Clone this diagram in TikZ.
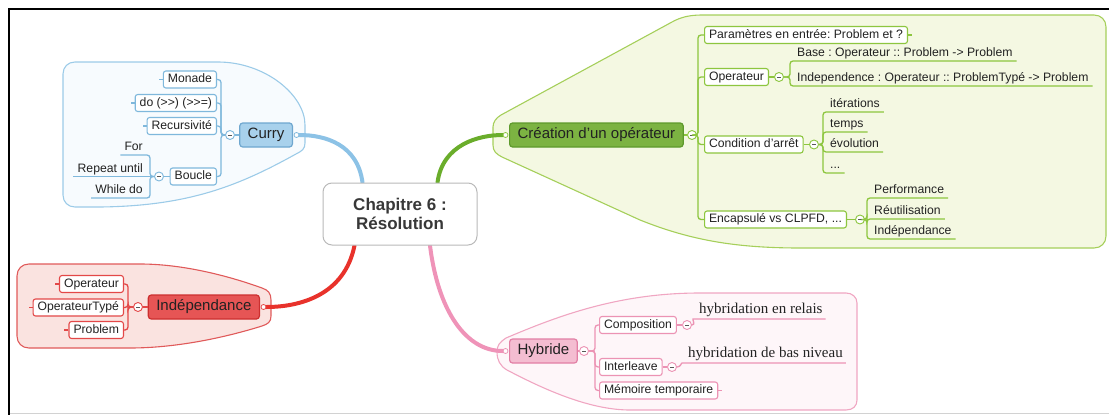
\documentclass[tikz,border=0pt]{standalone}
\usepackage{fontspec}
\setmainfont{Liberation Sans}
\newfontfamily\serifleaf{Liberation Serif}
\usetikzlibrary{calc}
\frenchspacing

\definecolor{txt}{HTML}{222222}
% blue branch
\definecolor{bLine}{HTML}{7FB8DC}
\definecolor{bTopic}{HTML}{A8D1EC}
\definecolor{bTopicLine}{HTML}{6FA7CF}
\definecolor{bTrunk}{HTML}{8CC2E6}
\definecolor{bZone}{HTML}{F7FBFE}
\definecolor{bZoneLine}{HTML}{9CCBE8}
% green branch
\definecolor{gLine}{HTML}{8DC63F}
\definecolor{gTopic}{HTML}{7CB342}
\definecolor{gTopicLine}{HTML}{5E9A2C}
\definecolor{gTrunk}{HTML}{6AAD2B}
\definecolor{gZone}{HTML}{F4F8E2}
\definecolor{gZoneLine}{HTML}{A5CF5A}
% red branch
\definecolor{rLine}{HTML}{E34848}
\definecolor{rTopic}{HTML}{E65555}
\definecolor{rTopicLine}{HTML}{CC2F2F}
\definecolor{rTrunk}{HTML}{E8322B}
\definecolor{rZone}{HTML}{FAE3E0}
\definecolor{rZoneLine}{HTML}{E05A5A}
% pink branch
\definecolor{pLine}{HTML}{EC93B4}
\definecolor{pTopic}{HTML}{F4BDD1}
\definecolor{pTopicLine}{HTML}{E27FA5}
\definecolor{pTrunk}{HTML}{EF93B8}
\definecolor{pZone}{HTML}{FEF6F9}
\definecolor{pZoneLine}{HTML}{F0A6C2}

\pgfdeclarelayer{back}
\pgfsetlayers{back,main}

\tikzset{
  lbl/.style={font=\fontsize{12.2}{14}\selectfont, text=txt},
  subbox/.style={lbl, draw, fill=white, rounded corners=2.5pt, line width=1.1pt,
    inner xsep=4.5pt, inner ysep=0pt, text height=9pt, text depth=2.5pt, minimum height=17pt},
  leaf/.style={lbl, inner xsep=4pt, inner ysep=0pt, text height=9pt, text depth=4pt},
  serifleaf/.style={font=\serifleaf\fontsize{15}{17}\selectfont, text=txt,
    inner xsep=3pt, inner ysep=0pt, text height=11pt, text depth=5pt},
  topic/.style={draw, rounded corners=3pt, line width=1.2pt, font=\fontsize{15}{18}\selectfont,
    text=txt, inner xsep=8pt, inner ysep=0pt, text height=11pt, text depth=3.5pt, minimum height=24pt},
  central/.style={draw=gray!55, line width=1pt, rounded corners=9pt, fill=white,
    minimum width=154pt, minimum height=62pt, align=center,
    font=\bfseries\fontsize{17}{19}\selectfont, text=txt!90},
  fold/.style={circle, draw, fill=white, line width=0.9pt, minimum size=9pt, inner sep=0pt,
    path picture={\draw[txt!75, line width=1pt]
      ([xshift=-2pt]path picture bounding box.center) -- ([xshift=2pt]path picture bounding box.center);}},
  knob/.style={circle, draw, fill=white, line width=0.8pt, minimum size=5pt, inner sep=0pt},
  link/.style={line width=1.3pt, rounded corners=3pt},
  trunk/.style={line width=4pt, line cap=round},
  zone/.style={line width=1.1pt},
}

\begin{document}
\begin{tikzpicture}[x=1pt,y=-1pt]
\useasboundingbox (0,0) rectangle (1109,415);

% page frame
\draw[line width=2pt] (8,9) -- (1109,9);
\draw[line width=2pt] (9,9) -- (9,415);
\draw[gray!35, line width=0.8pt] (10,413.5) -- (1109,413.5);

% ---------- branch zones ----------
\begin{pgfonlayer}{back}
\filldraw[zone, draw=bZoneLine, fill=bZone]
  (75,62) -- (218,62) .. controls (265,62) and (305,95) .. (305,125) -- (305,143)
  .. controls (305,149) and (302,151) .. (296,154)
  .. controls (240,185) and (190,206) .. (100,207) -- (75,207)
  .. controls (68,207) and (63,202) .. (63,195) -- (63,74)
  .. controls (63,67) and (68,62) .. (75,62) -- cycle;
\filldraw[zone, draw=rZoneLine, fill=rZone]
  (29,264) -- (140,264) .. controls (190,264) and (240,280) .. (262,288)
  .. controls (268,290) and (271,293) .. (271,300) -- (271,316)
  .. controls (271,322) and (268,324) .. (262,326)
  .. controls (230,336) and (180,348) .. (130,348) -- (29,348)
  .. controls (22,348) and (17,343) .. (17,336) -- (17,276)
  .. controls (17,269) and (22,264) .. (29,264) -- cycle;
\filldraw[zone, draw=gZoneLine, fill=gZone]
  (493,145) -- (493,127) .. controls (493,122) and (496,118) .. (501,115)
  -- (672,22) .. controls (681,17) and (690,15) .. (702,15) -- (1094,15)
  .. controls (1101,15) and (1106,20) .. (1106,27) -- (1106,236)
  .. controls (1106,243) and (1101,248) .. (1094,248) -- (800,248)
  .. controls (735,248) and (690,240) .. (640,220) -- (502,157)
  .. controls (496,154) and (493,151) .. (493,145) -- cycle;
\filldraw[zone, draw=pZoneLine, fill=pZone]
  (497,352) .. controls (497,345) and (500,342) .. (506,338)
  .. controls (560,315) and (620,293) .. (700,293) -- (846,293)
  .. controls (852,293) and (857,297) .. (857,303) -- (857,400)
  .. controls (857,406) and (853,410) .. (846,410) -- (630,410)
  .. controls (590,410) and (545,390) .. (507,370)
  .. controls (500,366) and (497,360) .. (497,352) -- cycle;
\end{pgfonlayer}

% ---------- central topic ----------
\node[central] (root) at (400,214) {Chapitre 6 :\\Résolution};

% ---------- Curry ----------
\node[topic, draw=bTopicLine, fill=bTopic, anchor=east] (curry) at (293,135) {Curry};
\node[knob, draw=bLine] (curryK) at ($(curry.east)+(3.5,0)$) {};
\node[fold, draw=bLine] (curryF) at (230,135) {};
\node[subbox, draw=bLine, anchor=east] (monade) at (217,79.5) {Monade};
\node[subbox, draw=bLine, anchor=east] (doop) at (217,103) {do (>{}>) (>{}>=)};
\node[subbox, draw=bLine, anchor=east] (recur) at (217,126) {Recursivité};
\node[subbox, draw=bLine, anchor=east] (boucle) at (217,176.5) {Boucle};
\node[fold, draw=bLine] (boucleF) at (159,176.5) {};
\node[leaf, anchor=south east] (for) at (147,155) {For};
\node[leaf, anchor=south east] (repeat) at (147,176.5) {Repeat until};
\node[leaf, anchor=south east] (while) at (147,198) {While do};

\begin{scope}[link, draw=bLine]
  \draw (curry.west) -- (curryF.east);
  \foreach \c in {monade,doop,recur,boucle}
    \draw (curryF.west) -| ($(\c.east)+(4,0)$) -- (\c.east);
  \foreach \c in {monade,doop,recur}
    \draw (\c.west) -- ++(-4,0);
  \draw (boucle.west) -- (boucleF.east);
  \draw (boucleF.west) -| ($(for.south east)+(3,0)$) -- (for.south west);
  \draw (boucleF.west) -- (repeat.south west);
  \draw (boucleF.west) -| ($(while.south east)+(3,0)$) -- (while.south west);
\end{scope}

% ---------- Indépendance ----------
\node[topic, draw=rTopicLine, fill=rTopic, anchor=east] (indep) at (260,307) {Indépendance};
\node[knob, draw=rLine] (indepK) at ($(indep.east)+(3.5,0)$) {};
\node[fold, draw=rLine] (indepF) at (138,307) {};
\node[subbox, draw=rLine, anchor=east] (rop) at (124,284) {Operateur};
\node[subbox, draw=rLine, anchor=east] (ropt) at (124,307.5) {OperateurTypé};
\node[subbox, draw=rLine, anchor=east] (rpb) at (124,330) {Problem};

\begin{scope}[link, draw=rLine]
  \draw (indep.west) -- (indepF.east);
  \foreach \c in {rop,ropt,rpb} {
    \draw (indepF.west) -| ($(\c.east)+(4,0)$) -- (\c.east);
    \draw (\c.west) -- ++(-4,0);
  }
\end{scope}

% ---------- Création d'un opérateur ----------
\node[topic, draw=gTopicLine, fill=gTopic, anchor=west] (crea) at (509,135) {Création d'un opérateur};
\node[knob, draw=gLine] (creaK) at ($(crea.west)+(-3.5,0)$) {};
\node[fold, draw=gLine] (creaF) at (692,135) {};
\node[subbox, draw=gLine, anchor=west] (param) at (704,35) {Paramètres en entrée: Problem et ?};
\node[subbox, draw=gLine, anchor=west] (oper) at (704,77) {Operateur};
\node[subbox, draw=gLine, anchor=west] (cond) at (704,144.5) {Condition d'arrêt};
\node[subbox, draw=gLine, anchor=west] (encap) at (704,219.5) {Encapsulé vs CLPFD, ...};

\node[fold, draw=gLine] (operF) at (779,77) {};
\node[leaf, anchor=south west] (base) at (793,61) {Base : Operateur :: Problem -> Problem};
\node[leaf, anchor=south west] (indy) at (793,86) {Independence : Operateur :: ProblemTypé -> Problem};

\node[fold, draw=gLine] (condF) at (814,144.5) {};
\node[leaf, anchor=south west] (iter) at (826,112) {itérations};
\node[leaf, anchor=south west] (temps) at (826,132) {temps};
\node[leaf, anchor=south west] (evol) at (826,152) {évolution};
\node[leaf, anchor=south west] (etc) at (826,173) {...};

\node[fold, draw=gLine] (encapF) at (860,219.5) {};
\node[leaf, anchor=south west] (perf) at (870,198) {Performance};
\node[leaf, anchor=south west] (reut) at (870,219) {Réutilisation};
\node[leaf, anchor=south west] (indp) at (870,239) {Indépendance};

\begin{scope}[link, draw=gLine]
  \draw (crea.east) -- (creaF.west);
  \foreach \c in {param,oper,cond,encap}
    \draw (creaF.east) -| ($(\c.west)+(-6,0)$) -- (\c.west);
  \draw (param.east) -- ++(4,0);
  \draw (oper.east) -- (operF.west);
  \draw (cond.east) -- (condF.west);
  \draw (encap.east) -- (encapF.west);
  \foreach \c in {base,indy}
    \draw (operF.east) -| ($(\c.south west)+(-3,0)$) -- (\c.south east);
  \foreach \c in {iter,temps,evol,etc}
    \draw (condF.east) -| ($(\c.south west)+(-3,0)$) -- (\c.south east);
  \foreach \c in {perf,reut,indp}
    \draw (encapF.east) -| ($(\c.south west)+(-3,0)$) -- (\c.south east);
\end{scope}

% ---------- Hybride ----------
\node[topic, draw=pTopicLine, fill=pTopic, anchor=west] (hyb) at (509,351) {Hybride};
\node[knob, draw=pLine] (hybK) at ($(hyb.west)+(-3.5,0)$) {};
\node[fold, draw=pLine] (hybF) at (584,351) {};
\node[subbox, draw=pLine, anchor=west] (compo) at (599,325) {Composition};
\node[subbox, draw=pLine, anchor=west] (inter) at (599,367) {Interleave};
\node[subbox, draw=pLine, anchor=west] (memo) at (599,390.5) {Mémoire temporaire};
\node[fold, draw=pLine] (compoF) at (687,325) {};
\node[fold, draw=pLine] (interF) at (672,367) {};
\node[serifleaf, anchor=south west] (relais) at (696,319) {hybridation en relais};
\node[serifleaf, anchor=south west] (niveau) at (685,363) {hybridation de bas niveau};

\begin{scope}[link, draw=pLine]
  \draw (hyb.east) -- (hybF.west);
  \foreach \c in {compo,inter,memo}
    \draw (hybF.east) -| ($(\c.west)+(-4,0)$) -- (\c.west);
  \draw (memo.east) -- ++(4,0);
  \draw (compo.east) -- (compoF.west);
  \draw (inter.east) -- (interF.west);
  \draw (compoF.east) .. controls +(4,0) and +(-4,0) .. (relais.south west) -- (relais.south east);
  \draw (interF.east) .. controls +(4,0) and +(-4,0) .. (niveau.south west) -- (niveau.south east);
\end{scope}

% ---------- main branches ----------
\begin{pgfonlayer}{back}
\draw[trunk, draw=bTrunk] ($(root.north west)+(40,0)$) .. controls +(-5,-38) and +(26,0) .. (curryK.east);
\draw[trunk, draw=gTrunk] ($(root.north east)+(-40,0)$) .. controls +(5,-38) and +(-24,0) .. (creaK.west);
\draw[trunk, draw=rTrunk] ($(root.south west)+(32,0)$) .. controls +(-10,50) and +(33,0) .. (indepK.east);
\draw[trunk, draw=pTrunk] ($(root.south)+(30,0)$) .. controls +(8,65) and +(-37,0) .. (hybK.west);
\end{pgfonlayer}

\end{tikzpicture}
\end{document}
